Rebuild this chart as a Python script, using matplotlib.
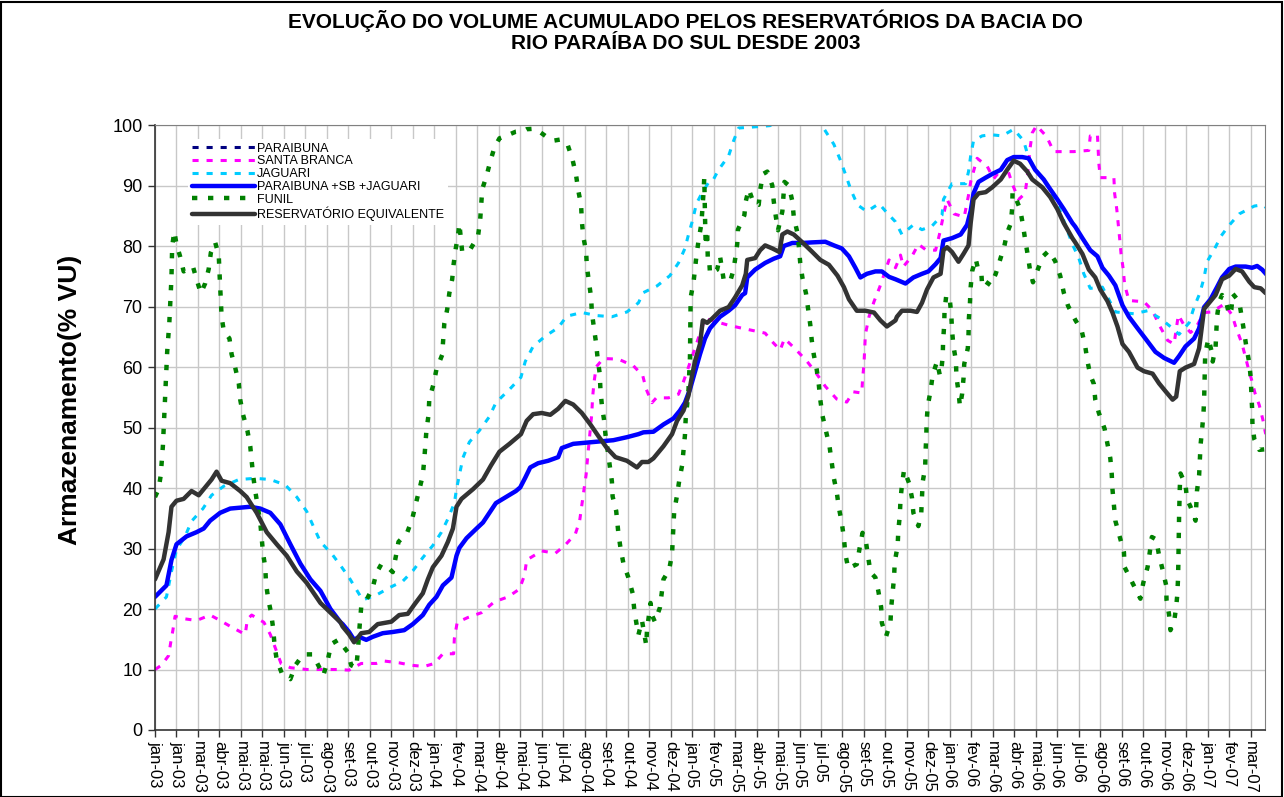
import matplotlib
matplotlib.use("Agg")
import matplotlib.pyplot as plt
from matplotlib.patches import Rectangle

# ---------------- data (x = days since 01-jan-2003, y = % VU) ----------------
tick_labels = ['jan-03','jan-03','mar-03','abr-03','mai-03','mai-03','jun-03','jul-03','ago-03','set-03',
               'out-03','nov-03','dez-03','jan-04','fev-04','mar-04','abr-04','mai-04','jun-04','jul-04',
               'ago-04','set-04','out-04','nov-04','dez-04','jan-05','fev-05','mar-05','abr-05','mai-05',
               'jun-05','jul-05','ago-05','set-05','out-05','nov-05','dez-05','jan-06','fev-06','mar-06',
               'abr-06','mai-06','jun-06','jul-06','ago-06','set-06','out-06','nov-06','dez-06','jan-07',
               'fev-07','mar-07']
tick_days = [30 * i for i in range(len(tick_labels))]

paraibuna_x = []
paraibuna_y = []

santa_branca_x = [0,9,19,22,25,28,40,58,77,91,107,126,129,135,152,161,176,189,212,235,254,
                  271,288,309,320,341,358,376,390,402,417,418,422,437,456,474,493,509,516,
                  519,540,559,573,587,593,596,599,602,604,608,610,611,613,616,626,647,668,681,686,694,700,717,731,738,743,
                  768,801,820,836,852,861,873,879,894,910,922,936,952,966,975,987,988,990,991,992,997,1004,1012,1025,1034,
                  1041,1045,1057,1066,1076,1090,1096,1101,1106,1116,1130,1136,1139,1148,1162,1171,1188,1197,1206,1215,1218,1222,1225,1231,1245,1255,1269,1283,
                  1304,1306,1316,1317,1318,1320,1339,1340,1343,1345,1347,1349,1352,1354,1360,1369,1381,1393,1402,1414,1423,1429,1437,1446,1453,1465,1476,1493,1504,1509,1518,1523,1528,1532,1536,1542,1547,1551]
santa_branca_y = [10.0,10.7,12.3,14.5,16.5,18.8,18.4,18.1,19.0,18.1,17.0,15.8,18.3,19.0,17.8,15.8,11.0,10.3,10.0,10.0,10.0,
                  9.9,11.0,11.0,11.4,11.1,10.7,10.5,11.0,12.6,12.6,15.1,17.8,18.6,19.4,21.2,22.0,23.3,25.6,
                  28.1,29.6,29.2,30.6,32.4,34.6,37.2,39.7,42.2,44.9,49.8,52.4,54.9,57.4,60.0,61.4,61.3,60.2,58.6,56.3,54.1,54.9,54.9,55.5,57.6,59.3,
                  68.0,66.9,66.4,66.0,65.6,64.3,62.8,64.7,63.0,61.0,59.2,56.8,54.7,54.2,55.9,55.7,57.9,60.5,63.1,65.4,68.3,70.8,73.2,77.7,76.4,
                  78.5,76.6,78.3,80.3,79.4,79.3,82.2,85.1,87.7,85.3,84.8,88.4,90.6,94.5,93.2,91.1,93.6,90.3,87.7,88.7,91.3,96.2,98.7,99.9,98.1,95.6,95.6,95.6,
                  95.8,98.2,98.4,96.0,93.6,91.3,91.3,88.7,86.1,83.7,81.3,78.7,76.2,73.6,71.0,70.9,70.8,69.3,67.0,64.4,63.8,68.6,66.9,65.7,66.4,69.0,69.1,70.4,68.6,66.7,63.8,61.5,59.2,57.6,55.7,53.7,51.3,48.9]

jaguari_x = [0,16,23,30,42,51,67,79,96,117,140,161,182,198,212,221,231,247,259,
             271,290,309,327,346,360,374,388,400,409,418,421,430,439,453,467,476,495,511,
             517,528,545,563,575,596,617,638,659,675,682,701,719,731,740,745,751,756,764,773,
             778,787,801,808,815,838,859,880,910,934,948,957,964,972,981,994,1011,1022,1034,
             1043,1059,1071,1085,1099,1101,1113,1132,1136,1139,1143,1155,1167,1183,1199,1213,1220,1232,1246,1260,1269,1281,1290,
             1297,1306,1323,1341,1367,1386,1404,1421,1430,1444,1451,1459,1465,1469,1479,1489,1499,1514,1535,1546,1551]
jaguari_y = [20.0,22.0,26.2,29.8,32.0,34.5,36.6,38.8,40.3,41.4,41.6,41.4,40.5,38.5,36.1,33.7,31.1,29.1,27.2,
             25.2,21.5,22.3,23.5,24.6,26.3,28.5,30.5,32.7,34.9,37.5,39.8,45.0,47.6,49.5,51.8,54.1,56.3,58.3,
             60.9,63.4,65.1,66.5,68.4,69.0,68.5,68.3,69.1,70.6,72.3,73.4,75.1,77.2,79.6,81.9,84.4,87.0,88.8,90.5,
             90.6,92.6,94.9,97.4,99.5,99.7,99.9,102.0,102.0,99.4,96.8,94.2,91.9,89.2,86.8,85.7,87.0,85.5,84.0,
             81.9,83.5,82.7,83.3,85.1,87.7,90.3,90.3,92.3,94.9,97.4,98.2,98.4,98.2,99.3,97.4,94.5,92.3,90.0,87.1,84.2,80.3,78.0,
             75.4,73.0,73.2,69.1,68.8,69.3,68.0,66.4,65.4,67.3,69.9,72.2,74.8,77.4,79.4,81.7,83.3,85.3,86.6,86.8,86.4]

psbj_x = [0,16,23,30,44,58,68,77,91,105,124,133,147,161,175,189,203,217,231,245,259,
          262,271,278,285,295,304,318,332,348,360,374,383,393,402,414,421,425,435,449,458,467,476,490,504,
          510,517,524,535,549,563,568,584,603,622,640,659,675,682,696,710,724,733,740,747,754,761,768,775,
          789,801,810,820,824,827,838,852,864,873,878,890,904,918,936,948,959,969,978,985,994,1006,1015,1025,1034,
          1038,1048,1059,1071,1080,1090,1097,1101,1113,1125,1134,1139,1143,1150,1160,1169,1181,1190,1199,1211,1220,1229,1241,1250,1260,1269,1281,
          1285,1295,1306,1316,1323,1332,1341,1351,1360,1372,1383,1397,1409,1423,1430,1439,1451,1458,1465,1474,1483,1490,1500,1509,1523,1532,1539,1546,1552]
psbj_y = [22.0,23.9,28.1,30.7,32.0,32.7,33.3,34.6,35.9,36.6,36.8,36.9,36.6,35.9,34.0,30.7,27.5,24.9,23.0,20.0,17.8,
          17.5,16.2,14.9,15.4,14.9,15.4,16.0,16.2,16.5,17.5,19.0,20.7,22.0,23.9,25.2,28.8,30.1,31.7,33.3,34.3,35.9,37.5,38.5,39.5,
          40.1,41.7,43.4,44.1,44.5,45.1,46.6,47.3,47.5,47.7,47.9,48.4,48.9,49.2,49.3,50.5,51.5,52.8,54.1,56.3,59.2,62.1,64.7,66.4,
          68.3,69.3,70.2,71.9,72.2,74.8,76.1,77.2,77.9,78.3,80.0,80.5,80.5,80.6,80.7,80.1,79.6,78.3,76.4,74.8,75.4,75.8,75.8,74.9,74.5,
          74.3,73.8,74.8,75.4,75.8,77.0,78.0,80.9,81.3,81.9,83.5,85.8,88.7,90.6,91.3,91.9,92.6,94.2,94.7,94.7,94.5,92.6,91.0,89.4,87.7,86.1,83.8,
          83.2,81.3,79.3,78.3,76.4,75.1,73.5,70.2,68.3,66.4,64.7,62.5,61.5,60.7,61.8,63.4,64.7,66.4,69.9,71.2,73.2,74.8,76.2,76.6,76.6,76.4,76.7,76.1,75.3]

funil_x = [0,5,8,11,13,15,17,20,22,23,24,27,30,35,40,53,58,64,70,75,78,84,89,90,92,93,96,104,107,112,117,119,123,129,133,137,140,147,151,154,155,158,162,165,167,170,177,189,196,207,220,228,235,241,246,256,
           269,274,281,283,286,288,294,304,309,316,325,332,336,340,352,359,364,369,374,376,379,382,383,389,393,401,404,408,411,415,417,420,423,425,429,440,451,454,457,463,468,474,481,490,504,516,
           519,531,545,556,566,576,583,588,591,595,596,598,602,603,606,609,610,613,616,618,621,622,624,627,629,632,635,638,639,644,646,647,650,654,661,667,669,672,675,680,686,687,692,694,698,705,710,718,722,723,724,725,729,732,736,738,740,741,743,745,746,747,748,752,756,759,763,766,767,768,769,771,772,774,775,
           785,789,794,803,808,813,814,823,825,829,836,843,845,849,855,862,864,867,870,876,879,885,890,892,897,899,901,904,909,912,915,917,920,924,927,929,932,937,942,945,948,952,955,959,962,964,968,980,984,988,993,996,999,1006,1010,1014,1015,1021,1027,1028,1032,1033,
           1037,1038,1040,1041,1043,1046,1053,1057,1059,1066,1070,1071,1072,1075.5,1076,1077,1077.5,1079,1083,1086,1092,1096,1098,1100,1100.5,1102,1102.5,1105,1110,1112,1113,1115,1118.5,1119,1122,1124,1127,1129,1130,1135,1136,1136.5,1138,1139,1141,1146,1150,1154,1155,1160,1167,1174,1180,1186,1190,1195,1197,1197.5,1202,1208,1212,1215,1219,1222,1226,1233,1240,1248,1257,1264,1269,1275,1285,
           1294,1299,1302,1306,1311,1313,1318,1326,1330,1334,1336,1337,1339,1341,1347,1353,1354,1362,1372,1376,1380,1386,1389,1392,1398,1402,1407,1412,1412.5,1416,1418,1423,1426,1427.5,1428.5,1429,1429.3,1429.6,1430,1430.5,1431,1432,1439,1441,1446,1453,1455,1458,1459,1460,1462,1464,1465,1465.5,1466,1466.5,1471,1475,1477,1481,1482,1483,1486,1490,1495,1500,1503,1505,1514,1517,1521,1524,1528,1530,1531,1532,1532.5,1535,1542,1550]
funil_y = [38.5,39.8,42.1,46.9,52.1,57.3,62.5,67.3,72.3,74.8,80.0,82.4,80.3,78.3,75.8,76.6,74.5,72.2,73.8,76.2,78.9,80.6,78.5,75.8,70.9,68.3,66.0,64.7,62.1,59.9,57.3,54.6,52.1,49.5,46.9,42.1,39.5,34.3,29.1,26.9,24.3,21.7,19.4,16.8,13.9,11.6,9.4,8.4,10.7,12.5,12.5,10.7,9.0,11.4,14.2,14.9,
           12.9,10.7,10.3,12.7,17.6,20.4,21.2,23.5,25.9,27.4,26.9,26.1,28.5,31.1,32.6,34.8,37.3,39.7,42.1,44.7,49.5,52.1,54.7,57.2,59.6,62.0,67.2,69.5,72.2,74.5,77.0,79.6,81.6,83.7,79.0,79.4,81.6,84.2,89.4,91.6,93.9,96.3,97.8,98.2,98.9,99.1,
           99.3,99.4,98.2,97.4,97.6,96.8,94.3,91.7,89.2,86.8,84.2,81.6,79.1,76.7,74.0,71.5,69.1,66.4,63.9,61.5,58.9,56.3,53.7,51.3,48.9,46.3,43.7,41.1,38.6,36.2,33.7,32.6,30.1,27.6,25.2,22.6,20.2,17.8,15.7,18.1,14.0,16.5,21.0,19.0,17.9,20.2,24.9,26.5,29.1,31.5,33.7,36.2,38.8,41.2,43.7,46.2,48.7,51.3,53.7,56.3,58.9,61.5,71.5,74.0,78.3,80.9,83.7,88.9,91.3,85.0,80.0,82.6,77.4,77.5,75.4,
           76.1,78.3,74.5,74.1,76.1,80.3,82.7,85.1,87.4,89.4,87.1,86.8,89.2,91.9,92.3,90.0,87.4,84.8,82.6,85.7,90.6,90.0,87.4,84.8,82.2,80.0,77.2,74.8,72.2,69.6,67.0,64.5,62.0,59.6,57.0,54.6,52.0,49.4,46.8,44.2,41.6,39.3,36.7,34.3,31.7,29.1,26.7,27.4,30.1,32.6,30.9,28.5,26.1,25.2,23.0,20.3,17.7,15.5,17.8,20.2,25.2,27.8,
           30.4,33.0,35.4,38.0,40.5,43.0,40.8,38.4,35.9,33.7,35.9,38.4,41.0,43.4,46.0,48.5,50.9,53.5,56.1,58.7,60.9,58.6,59.4,61.8,64.3,66.9,69.3,71.9,71.0,68.5,66.0,63.4,61.0,58.5,55.9,53.5,55.5,58.1,60.5,63.1,65.4,68.0,70.6,73.2,75.8,77.9,75.8,75.4,73.4,74.1,73.5,75.4,77.7,80.0,82.2,83.7,86.3,88.9,87.9,86.1,83.5,81.1,78.3,75.9,74.0,76.2,78.3,79.2,77.5,75.1,72.3,70.1,67.8,
           66.0,63.4,61.0,58.7,57.2,54.6,52.4,49.8,47.3,44.9,42.3,39.8,37.2,34.6,32.0,29.4,26.9,25.0,22.6,21.7,24.3,26.9,29.3,31.9,31.5,28.9,26.5,23.9,21.5,19.1,16.5,17.8,20.4,22.3,24.9,27.5,30.0,32.6,35.1,37.5,40.0,42.4,40.6,38.2,36.9,34.6,39.5,42.1,44.5,47.1,49.5,52.1,54.6,57.2,59.8,62.2,64.7,62.8,60.9,63.3,65.7,68.3,70.8,71.9,71.2,68.6,69.5,72.1,70.8,68.6,65.7,63.3,60.7,58.3,55.7,53.1,50.5,48.1,46.3,46.4]

equiv_x = [0,12,19,23,30,40,51,61,70,79,86,93,105,119,128,142,156,170,184,198,212,231,245,259,
           262,271,278,283,288,299,311,330,341,353,362,374,381,388,400,409,416,421,428,444,458,469,481,495,511,
           519,528,540,552,563,573,584,596,608,619,631,643,659,673,680,689,696,710,722,729,738,745,750,754,761,765,771,
           778,789,801,810,820,825,827,838,845,852,862,872,876,883,892,904,918,929,941,953,962,969,980,992,1004,1013,1022,1034,
           1036,1043,1055,1064,1071,1078,1087,1097,1101,1106,1113,1122,1129,1136,1139,1143,1150,1160,1169,1181,1190,1199,1208,1218,1225,1239,1250,1260,1269,1281,
           1285,1295,1304,1313,1320,1330,1337,1344,1351,1360,1372,1381,1393,1402,1411,1421,1426,1431,1439,1451,1458,1465,1472,1481,1490,1500,1509,1518,1528,1535,1544,1551]
equiv_y = [24.9,28.2,32.7,36.9,37.9,38.2,39.5,38.8,40.1,41.4,42.7,41.2,40.8,39.5,38.5,35.9,32.7,30.7,28.8,26.2,24.3,21.0,19.4,17.8,
           17.1,15.8,14.5,15.2,16.0,16.2,17.5,17.9,19.0,19.2,20.7,22.6,24.9,26.9,28.8,31.1,33.3,36.9,38.2,39.8,41.4,43.7,46.0,47.3,48.9,
           51.1,52.2,52.4,52.1,53.1,54.4,53.8,52.4,50.5,48.6,46.6,45.1,44.5,43.4,44.3,44.3,44.9,46.9,48.9,51.1,52.8,55.3,58.6,60.9,63.8,67.7,67.3,
           68.0,69.3,69.9,71.5,73.5,75.4,77.7,78.0,79.3,80.1,79.6,79.0,81.9,82.4,81.9,80.6,79.0,77.7,76.9,75.1,73.2,71.2,69.3,69.3,69.0,67.7,66.7,67.7,
           68.3,69.3,69.3,69.1,70.6,72.8,74.8,75.4,79.3,79.8,79.0,77.4,78.7,80.1,83.8,87.7,88.7,88.9,89.7,91.0,92.6,94.1,93.6,92.3,91.0,89.7,88.1,86.1,83.8,81.3,
           80.6,78.7,76.1,74.8,72.8,70.9,69.0,66.7,63.8,62.5,59.9,59.3,58.9,57.3,56.0,54.6,55.1,59.3,59.9,60.5,63.1,69.6,70.6,71.9,74.5,75.1,76.2,75.8,74.1,73.2,73.0,72.2]

# ---------------- figure ----------------
plt.rcParams['font.family'] = ['Liberation Sans', 'DejaVu Sans']
fig = plt.figure(figsize=(12.84, 7.97), dpi=100)
ax = fig.add_axes([155/1284, 1-730/797, 1110/1284, 605/797])

dot_small = (0, (2.0, 2.6))
dot_big = (0, (1.2, 2.4))
ax.plot(paraibuna_x, paraibuna_y, color='#000080', lw=2.2, ls=dot_small, label='PARAIBUNA')
ax.plot(santa_branca_x, santa_branca_y, color='#FF00FF', lw=2.2, ls=dot_small, label='SANTA BRANCA')
ax.plot(jaguari_x, jaguari_y, color='#00CCFF', lw=2.2, ls=dot_small, label='JAGUARI')
ax.plot(psbj_x, psbj_y, color='#0000FF', lw=3.2, solid_capstyle='round', label='PARAIBUNA +SB +JAGUARI')
ax.plot(funil_x, funil_y, color='#008000', lw=3.2, ls=dot_big, label='FUNIL')
ax.plot(equiv_x, equiv_y, color='#333333', lw=3.2, solid_capstyle='round', label='RESERVATÓRIO EQUIVALENTE')

ax.set_xlim(0, 1550)
ax.set_ylim(0, 100)
ax.set_yticks(range(0, 101, 10))
ax.set_xticks(tick_days)
ax.set_xticklabels(tick_labels, rotation=-90, ha='center', va='top', fontsize=12)
ax.tick_params(axis='y', labelsize=13, length=5, width=1, color='#333333', pad=4)
ax.tick_params(axis='x', length=5, width=1, color='#333333', pad=3)
ax.grid(True, color='#C8C8C8', lw=1)
ax.set_axisbelow(True)
for s in ['top', 'right']:
    ax.spines[s].set_color('#808080')
for s in ['left', 'bottom']:
    ax.spines[s].set_color('#333333')
    ax.spines[s].set_linewidth(1.2)

ax.set_ylabel('Armazenamento(% VU)', fontsize=19, fontweight='bold')
ax.yaxis.set_label_coords(-0.066, 0.545)

leg = ax.legend(loc='upper left', bbox_to_anchor=(0.03, 0.977), borderaxespad=0,
                fontsize=9, handlelength=5.0, handletextpad=0.2, labelspacing=0.06,
                borderpad=0.3, frameon=True, fancybox=False)
leg.get_frame().set_edgecolor('none')
leg.get_frame().set_facecolor('white')
leg.get_frame().set_alpha(1.0)

fig.text(0.534, 0.988, 'EVOLUÇÃO DO VOLUME ACUMULADO PELOS RESERVATÓRIOS DA BACIA DO\nRIO PARAÍBA DO SUL DESDE 2003',
         ha='center', va='top', fontsize=15, fontweight='bold', linespacing=1.12)

fig.patches.append(Rectangle((1/1284, 0.0), 1-3/1284, 1-2/797, transform=fig.transFigure,
                             fill=False, edgecolor='black', lw=1.5))

fig.savefig('out.png', dpi=100)
